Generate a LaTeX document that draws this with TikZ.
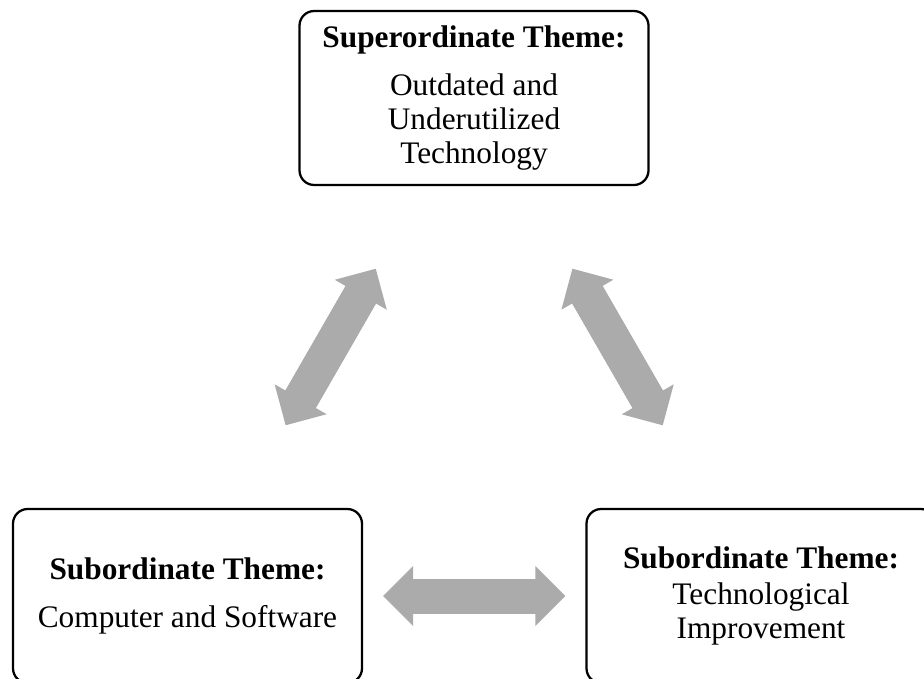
\documentclass[tikz,border=0pt]{standalone}
\usepackage{fontspec}
\setmainfont{Liberation Serif}
\usetikzlibrary{arrows.meta}
\definecolor{arrowgray}{RGB}{171,171,171}
\tikzset{fattip/.tip={Triangle[length=22.5pt,width=45pt,line width=0pt]}}
\begin{document}
\begin{tikzpicture}[x=0.75pt,y=-0.75pt,
  theme/.style={draw=black, line width=1.7pt, rounded corners=11pt,
    minimum width=261.75pt, minimum height=130.5pt, align=center,
    inner sep=0pt, font=\fontsize{23.5}{25.5}\selectfont},
  fat/.style={draw=arrowgray, line width=26.25pt, fattip-fattip},
  fatshaft/.style={draw=arrowgray, line width=26.25pt}
]
\useasboundingbox (0,0) rectangle (924,678);
\clip (0,0) rectangle (924,678);
\node[theme] (top) at (474,98) {\textbf{Superordinate Theme:}\\[10pt] Outdated and\\ Underutilized\\ Technology};
\node[theme] (bl) at (187.5,596) {\textbf{Subordinate Theme:}\\[11pt] Computer and Software};
\node[theme] (br) at (761,596) {\textbf{Subordinate Theme:}\\[1.5pt] Technological\\ Improvement};
\draw[fat, shorten <=71.5pt, shorten >=71.5pt] (top) -- (bl);
\draw[fatshaft, shorten <=86pt, shorten >=86pt] (top) -- (bl);
\draw[fat, shorten <=71.5pt, shorten >=71.5pt] (top) -- (br);
\draw[fatshaft, shorten <=86pt, shorten >=86pt] (top) -- (br);
\draw[fat, shorten <=15pt, shorten >=15pt] (bl) -- (br);
\draw[fatshaft, shorten <=29.5pt, shorten >=29.5pt] (bl) -- (br);
\end{tikzpicture}
\end{document}
